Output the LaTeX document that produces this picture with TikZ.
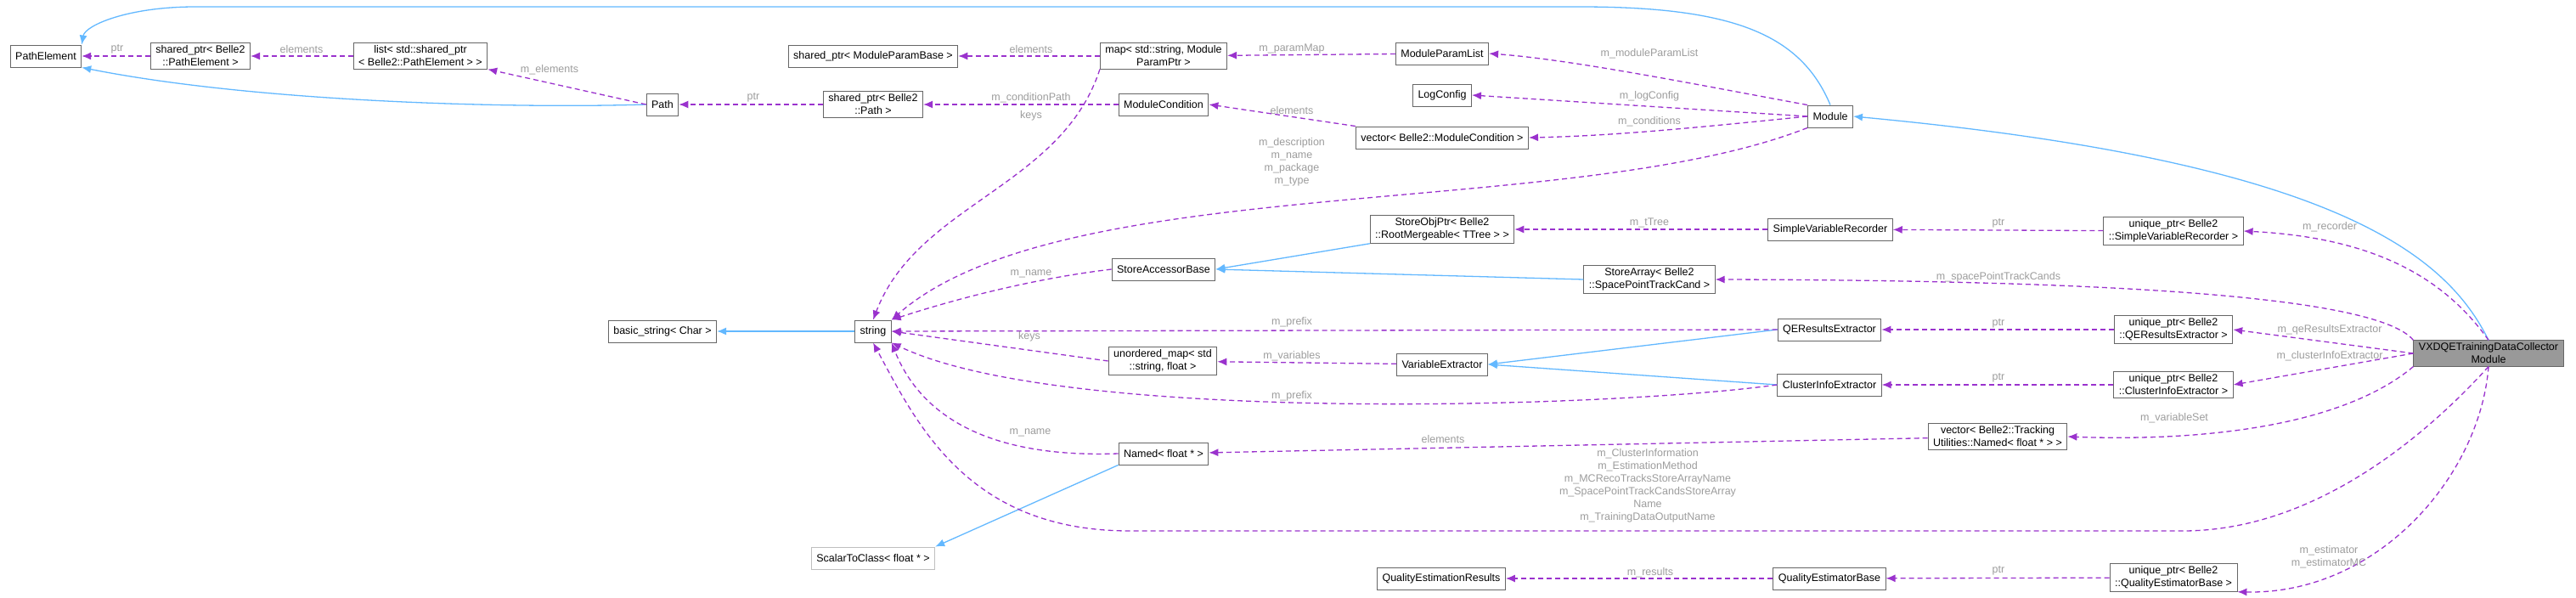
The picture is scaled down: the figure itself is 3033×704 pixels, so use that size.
\documentclass[tikz,border=0pt]{standalone}
\usepackage{fontspec}
\setmainfont{Liberation Sans}
\usetikzlibrary{arrows.meta}
\definecolor{pu}{HTML}{9A32CD}
\definecolor{bl}{HTML}{63B8FF}
\definecolor{lg}{HTML}{9C9C9C}
\newcommand\myfs{\fontsize{12.5}{15}\selectfont}
\begin{document}
\begin{tikzpicture}[x=1pt,y=-1pt,
 box/.style={draw=black!60, fill=white, line width=0.9pt, font=\myfs, align=center, inner xsep=6pt, inner ysep=3pt, minimum height=26pt},
 use/.style={draw=pu, dash pattern=on 6pt off 4pt, line width=1.3pt, -{Latex[length=11pt,width=9pt]}},
 inh/.style={draw=bl, line width=1.3pt, -{Latex[length=11pt,width=9pt]}},
 lab/.style={text=lg, font=\myfs, align=center, inner sep=1pt}]
\useasboundingbox (0,0) rectangle (3033,704);
% nodes
\node[box] (pe) at (54,66) {PathElement};
\node[box] (spe) at (236,66) {shared\_ptr< Belle2\\::PathElement >};
\node[box] (lst) at (495,66) {list< std::shared\_ptr\\< Belle2::PathElement > >};
\node[box] (path) at (780,123) {Path};
\node[box] (spp) at (1028,123) {shared\_ptr< Belle2\\::Path >};
\node[box] (smpb) at (1028,66) {shared\_ptr< ModuleParamBase >};
\node[box] (map) at (1370,66) {map< std::string, Module\\ParamPtr >};
\node[box] (mpl) at (1698,63) {ModuleParamList};
\node[box] (lc) at (1698,112) {LogConfig};
\node[box] (mc) at (1370,123) {ModuleCondition};
\node[box] (vmc) at (1698,162) {vector< Belle2::ModuleCondition >};
\node[box] (mod) at (2155,137) {Module};
\node[box] (sop) at (1698,270) {StoreObjPtr< Belle2\\::RootMergeable< TTree > >};
\node[box] (svr) at (2155,270) {SimpleVariableRecorder};
\node[box] (usvr) at (2559,272) {unique\_ptr< Belle2\\::SimpleVariableRecorder >};
\node[box] (sab) at (1370,317) {StoreAccessorBase};
\node[box] (sa) at (1942,329) {StoreArray< Belle2\\::SpacePointTrackCand >};
\node[box] (bs) at (780,390) {basic\_string< Char >};
\node[box] (str) at (1028,390) {string};
\node[box] (um) at (1369,425) {unordered\_map< std\\::string, float >};
\node[box] (ve) at (1698,429) {VariableExtractor};
\node[box] (qe) at (2154,388) {QEResultsExtractor};
\node[box] (ci) at (2154,453) {ClusterInfoExtractor};
\node[box] (uqe) at (2559,388) {unique\_ptr< Belle2\\::QEResultsExtractor >};
\node[box] (uci) at (2559,453) {unique\_ptr< Belle2\\::ClusterInfoExtractor >};
\node[box, fill=black!40] (vx) at (2930,416) {VXDQETrainingDataCollector\\Module};
\node[box] (vt) at (2352,514) {vector< Belle2::Tracking\\Utilities::Named< float * > >};
\node[box] (nm) at (1370,534) {Named< float * >};
\node[box, draw=black!25] (stc) at (1028,657) {ScalarToClass< float * >};
\node[box] (qer) at (1697,681) {QualityEstimationResults};
\node[box] (qeb) at (2154,681) {QualityEstimatorBase};
\node[box] (uqeb) at (2559,680) {unique\_ptr< Belle2\\::QualityEstimatorBase >};
% inheritance
\draw[inh] (mod.north) .. controls (2120,40) and (2040,8) .. (1860,8) -- (230,8) .. controls (150,8) and (100,30) .. (pe.north east);
\draw[inh] (path.west) .. controls (600,128) and (300,120) .. (pe.south east);
\draw[inh] (vx.north) .. controls (2880,300) and (2750,190) .. (mod.east);
\draw[inh] (sop.south west) -- (sab.east);
\draw[inh] (sa.west) -- (sab.east);
\draw[inh] (str.west) -- (bs.east);
\draw[inh] (qe.west) -- (ve.east);
\draw[inh] (ci.west) -- (ve.east);
\draw[inh] (nm.south west) -- (stc.north east);
% usage
\draw[use] (spe) -- (pe);
\draw[use] (lst) -- (spe);
\draw[use] (path.west) -- (lst.south east);
\draw[use] (spp) -- (path);
\draw[use] (mc) -- (spp);
\draw[use] (map) -- (smpb);
\draw[use] (map.south west) .. controls (1250,220) and (1080,240) .. (str.north);
\draw[use] (mpl) -- (map);
\draw[use] (mod.north west) .. controls (2000,100) and (1850,70) .. (mpl.east);
\draw[use] (mod.west) -- (lc.east);
\draw[use] (mod.west) .. controls (2000,150) and (1900,160) .. (vmc.east);
\draw[use] (vmc.north west) -- (mc.east);
\draw[use] (mod.south west) .. controls (1850,260) and (1250,200) .. (str.north east);
\draw[use] (svr) -- (sop);
\draw[use] (usvr) -- (svr);
\draw[use] (vx.north) .. controls (2880,330) and (2800,280) .. (usvr.east);
\draw[use] (vx.north west) .. controls (2800,350) and (2500,330) .. (sa.east);
\draw[use] (sab.west) .. controls (1200,330) and (1100,360) .. (str.north east);
\draw[use] (qe.west) -- (str.east);
\draw[use] (uqe) -- (qe);
\draw[use] (vx.west) -- (uqe.east);
\draw[use] (um.west) -- (str.east);
\draw[use] (ve) -- (um);
\draw[use] (ci.west) .. controls (1900,480) and (1250,500) .. (str.south east);
\draw[use] (uci) -- (ci);
\draw[use] (vx.west) -- (uci.east);
\draw[use] (nm.west) .. controls (1150,540) and (1080,480) .. (str.south east);
\draw[use] (vt) -- (nm);
\draw[use] (vx.south west) .. controls (2760,500) and (2600,520) .. (vt.east);
\draw[use] (vx.south) .. controls (2850,520) and (2720,625) .. (2570,625) -- (1330,625) .. controls (1140,625) and (1080,500) .. (str.south);
\draw[use] (qeb) -- (qer);
\draw[use] (uqeb) -- (qeb);
\draw[use] (vx.south) .. controls (2920,560) and (2800,700) .. (uqeb.south east);
% labels
\node[lab] (l1) at (138,58) {ptr};
\node[lab] (l2) at (355,58) {elements};
\node[lab] (l3) at (647,82) {m\_elements};
\node[lab] (l4) at (887,115) {ptr};
\node[lab] (l5) at (1214,115) {m\_conditionPath};
\node[lab] (l6) at (1214,136) {keys};
\node[lab] (l7) at (1214,58) {elements};
\node[lab] (l8) at (1521,57) {m\_paramMap};
\node[lab] (l9) at (1942,63) {m\_moduleParamList};
\node[lab] (l10) at (1942,113) {m\_logConfig};
\node[lab] (l11) at (1942,143) {m\_conditions};
\node[lab] (l12) at (1521,130) {elements};
\node[lab] (l13) at (1521,191) {m\_description\\m\_name\\m\_package\\m\_type};
\node[lab] (l14) at (1942,262) {m\_tTree};
\node[lab] (l15) at (1214,322) {m\_name};
\node[lab] (l16) at (2353,263) {ptr};
\node[lab] (l17) at (2743,267) {m\_recorder};
\node[lab] (l18) at (2353,326) {m\_spacePointTrackCands};
\node[lab] (l19) at (2353,381) {ptr};
\node[lab] (l20) at (2743,388) {m\_qeResultsExtractor};
\node[lab] (l21) at (2743,419) {m\_clusterInfoExtractor};
\node[lab] (l22) at (2353,445) {ptr};
\node[lab] (l23) at (2560,492) {m\_variableSet};
\node[lab] (l24) at (2742,656) {m\_estimator\\m\_estimatorMC};
\node[lab] (l25) at (2353,672) {ptr};
\node[lab] (l26) at (1521,379) {m\_prefix};
\node[lab] (l27) at (1212,396) {keys};
\node[lab] (l28) at (1521,419) {m\_variables};
\node[lab] (l29) at (1521,466) {m\_prefix};
\node[lab] (l30) at (1213,509) {m\_name};
\node[lab] (l31) at (1699,517) {elements};
\node[lab] (l32) at (1940,572) {m\_ClusterInformation\\m\_EstimationMethod\\m\_MCRecoTracksStoreArrayName\\m\_SpacePointTrackCandsStoreArray\\Name\\m\_TrainingDataOutputName};
\node[lab] (l33) at (1943,674) {m\_results};
\end{tikzpicture}
\end{document}
